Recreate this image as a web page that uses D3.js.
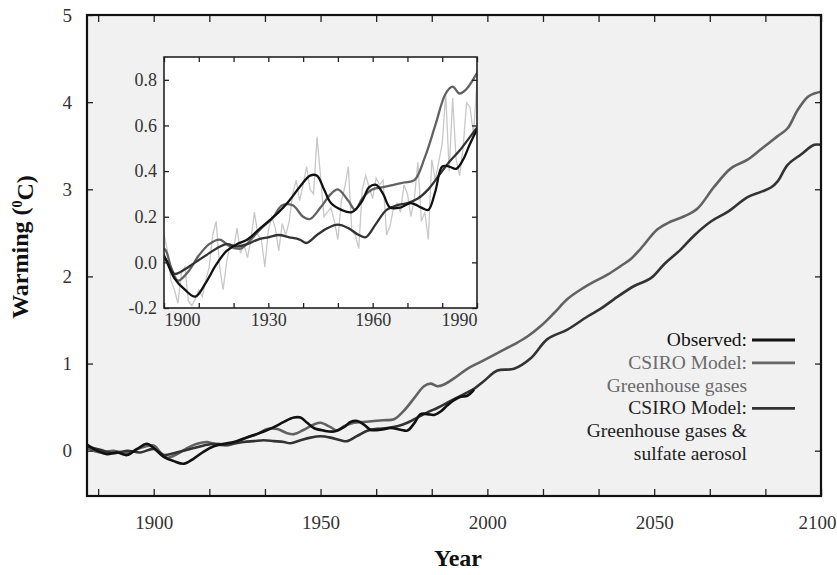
<!DOCTYPE html>
<html>
<head>
<meta charset="utf-8">
<script src="https://cdn.jsdelivr.net/npm/d3@7/dist/d3.min.js"></script>
<style>
  html, body { margin: 0; padding: 0; background: #ffffff; }
  svg { display: block; }
</style>
</head>
<body>
<svg id="chart" width="837" height="575"></svg>
<script>
// ---- Data -------------------------------------------------------------
// Observed global warming, smoothed (°C)
const obsYears = [1880,1883,1886,1889,1892,1895,1898,1900,1903,1906,1909,1912,1915,1918,1921,1924,1927,1930,1933,1936,1939,1942,1944,1946,1948,1951,1954,1957,1959,1961,1963,1965,1968,1971,1974,1976,1978,1980,1982,1984,1986,1988,1990,1992,1994,1996];
const obsValues = [0.07,0.00,-0.04,-0.02,-0.05,0.02,0.08,0.03,-0.07,-0.12,-0.15,-0.09,-0.01,0.05,0.08,0.10,0.14,0.18,0.22,0.27,0.33,0.38,0.38,0.32,0.26,0.23,0.22,0.27,0.33,0.34,0.30,0.24,0.24,0.26,0.24,0.23,0.31,0.42,0.42,0.41,0.45,0.52,0.58,0.62,0.63,0.70];

// Observed annual values (inset only)
const annualYears = d3.range(1900, 1991);
const annualValues = [0.12,0.05,-0.08,-0.12,-0.18,-0.05,-0.02,-0.17,-0.19,-0.16,
  -0.12,-0.15,-0.08,-0.02,0.12,0.18,-0.02,-0.12,0.00,0.08,
  0.06,0.15,0.04,0.08,0.02,0.10,0.22,0.12,0.10,-0.02,
  0.14,0.20,0.15,0.05,0.17,0.12,0.18,0.30,0.36,0.27,
  0.34,0.42,0.32,0.30,0.55,0.38,0.20,0.22,0.24,0.18,
  0.10,0.27,0.33,0.42,0.14,0.12,0.06,0.32,0.38,0.33,
  0.28,0.37,0.34,0.36,0.12,0.16,0.24,0.26,0.22,0.34,
  0.30,0.20,0.28,0.44,0.18,0.22,0.10,0.45,0.36,0.44,
  0.52,0.74,0.40,0.72,0.45,0.38,0.50,0.70,0.68,0.56,0.80];

// CSIRO model: greenhouse gases only
const ghgYears = [1880,1884,1888,1892,1896,1900,1902,1904,1907,1910,1913,1916,1919,1922,1925,1928,1931,1934,1937,1940,1942,1945,1948,1950,1953,1955,1957,1960,1963,1966,1969,1972,1975,1978,1981,1983,1985,1987,1990,1994,1998,2003,2008,2012,2016,2020,2024,2028,2032,2036,2040,2043,2046,2051,2055,2059,2063,2068,2073,2078,2082,2087,2090,2093,2096,2098,2100];
const ghgValues = [0.03,-0.02,0.00,-0.03,0.03,0.06,-0.02,-0.08,-0.04,0.03,0.08,0.10,0.07,0.06,0.10,0.15,0.19,0.25,0.25,0.20,0.19,0.24,0.30,0.32,0.27,0.23,0.28,0.32,0.33,0.34,0.35,0.36,0.46,0.60,0.74,0.77,0.74,0.76,0.83,0.94,1.02,1.12,1.22,1.31,1.43,1.58,1.74,1.85,1.94,2.02,2.12,2.20,2.32,2.54,2.63,2.69,2.78,3.03,3.24,3.34,3.46,3.61,3.70,3.91,4.06,4.10,4.12];

// CSIRO model: greenhouse gases & sulfate aerosol
const aerYears = [1880,1884,1888,1892,1896,1900,1903,1906,1909,1912,1915,1918,1921,1924,1927,1930,1933,1936,1939,1941,1944,1947,1950,1953,1956,1958,1961,1964,1967,1970,1973,1976,1979,1982,1985,1988,1990,1993,1996,1999,2003,2008,2013,2018,2024,2030,2034,2038,2044,2049,2053,2058,2062,2067,2072,2078,2082,2085,2087,2090,2094,2098,2100];
const aerValues = [0.05,0.01,-0.03,0.00,-0.02,0.02,-0.05,-0.03,0.00,0.03,0.06,0.08,0.07,0.08,0.10,0.11,0.12,0.11,0.10,0.085,0.12,0.15,0.165,0.15,0.12,0.11,0.17,0.23,0.25,0.26,0.28,0.32,0.38,0.44,0.49,0.55,0.59,0.65,0.71,0.80,0.92,0.94,1.06,1.28,1.39,1.54,1.63,1.74,1.89,1.98,2.14,2.31,2.47,2.63,2.74,2.91,2.97,3.02,3.09,3.28,3.40,3.51,3.51];

// Axis ticks and labels
const mainYTicks = [0, 1, 2, 3, 4, 5];
const mainXLabels = [1900, 1950, 2000, 2050, 2100];
const insetXLabels = [1900, 1930, 1960, 1990];
const insetYTicks = [-0.2, 0, 0.2, 0.4, 0.6, 0.8];

const legendItems = [
  { lines: ["Observed:"], color: "#111111", textColor: "#111111" },
  { lines: ["CSIRO Model:", "Greenhouse gases"], color: "#666666", textColor: "#6a6a6a" },
  { lines: ["CSIRO Model:", "Greenhouse gases &", "sulfate aerosol"], color: "#333333", textColor: "#222222" }
];

const series = [
  { years: ghgYears, values: ghgValues, color: "#626262" },
  { years: aerYears, values: aerValues, color: "#333333" },
  { years: obsYears, values: obsValues, color: "#111111" }
];

// Pick the first installed serif face (regular weight), measured on a canvas.
function pickSerif() {
  const ctx = document.createElement("canvas").getContext("2d");
  const sample = "Greenhouse gases & 1900 Wg";
  const width = f => { ctx.font = "32px " + f; return ctx.measureText(sample).width; };
  const base = width("monospace");
  const names = ["Liberation Serif", "Times New Roman", "DejaVu Serif", "Noto Serif", "FreeSerif"];
  for (const n of names) {
    if (Math.abs(width(`'${n}', monospace`) - base) > 0.5) return `'${n}', serif`;
  }
  return "serif";
}
const SERIF = pickSerif();

// ---- Layout ------------------------------------------------------------
const svg = d3.select("#chart");
const M = { left: 87, right: 821, top: 15, bottom: 496 };

const x = d3.scaleLinear().domain([1880, 2100]).range([M.left, M.right]);
const y = d3.scaleLinear().domain([-0.52, 5]).range([M.bottom, M.top]);

svg.append("rect").attr("width", 837).attr("height", 575).attr("fill", "#ffffff");
svg.append("rect")
  .attr("x", M.left).attr("y", M.top)
  .attr("width", M.right - M.left).attr("height", M.bottom - M.top)
  .attr("fill", "#f1f1f1");

const line = (xs, ys) => d3.line()
  .x(d => xs(d[0])).y(d => ys(d[1]))
  .curve(d3.curveCatmullRom.alpha(0.5));

// main curves
const mainG = svg.append("g");
series.forEach(s => {
  const pts = s.years.map((yr, i) => [yr, s.values[i]]);
  mainG.append("path")
    .attr("d", line(x, y)(pts))
    .attr("fill", "none").attr("stroke", s.color)
    .attr("stroke-width", 2.6).attr("stroke-linejoin", "round");
});

// main axes: ticks point inward
const xTickVals = d3.range(-1, 13).map(k => 1900 + k * 50 / 3).filter(v => v >= 1880 && v <= 2100.01);
const fmtX = v => {
  const r = Math.round(v);
  return (Math.abs(v - r) < 0.01 && mainXLabels.includes(r)) ? String(r) : "";
};
const styleAxis = g => {
  g.attr("font-family", SERIF);
  g.select(".domain").remove();
  g.selectAll(".tick line").attr("stroke", "#222").attr("stroke-width", 1.3);
  g.selectAll("text").attr("fill", "#333").style("font-family", SERIF).style("font-size", "19px");
};

const xAxisG = svg.append("g").attr("transform", `translate(0,${M.bottom})`)
  .call(d3.axisBottom(x).tickValues(xTickVals).tickFormat(fmtX).tickSize(-7).tickPadding(20))
  .call(styleAxis);
// keep the last year label inside the page
xAxisG.selectAll(".tick text")
  .filter(d => Math.abs(d - 2100) < 0.01)
  .attr("text-anchor", "end").attr("x", 836 - M.right);

svg.append("g").attr("transform", `translate(0,${M.top})`)
  .call(d3.axisTop(x).tickValues(xTickVals).tickFormat("").tickSize(-7))
  .call(styleAxis);
svg.append("g").attr("transform", `translate(${M.left},0)`)
  .call(d3.axisLeft(y).tickValues(mainYTicks).tickFormat(d3.format("d")).tickSize(-6).tickPadding(15))
  .call(styleAxis);
svg.append("g").attr("transform", `translate(${M.right},0)`)
  .call(d3.axisRight(y).tickValues(mainYTicks).tickFormat("").tickSize(-6))
  .call(styleAxis);

svg.append("rect")
  .attr("x", M.left).attr("y", M.top)
  .attr("width", M.right - M.left).attr("height", M.bottom - M.top)
  .attr("fill", "none").attr("stroke", "#111").attr("stroke-width", 2.2);

// axis titles
svg.append("text")
  .attr("x", (M.left + M.right) / 2 + 4).attr("y", 566)
  .attr("text-anchor", "middle").style("font-family", SERIF)
  .style("font-size", "24px").style("font-weight", "bold").attr("fill", "#111")
  .text("Year");

const yTitle = svg.append("text")
  .attr("transform", "translate(28,247) rotate(-90)")
  .attr("text-anchor", "middle").style("font-family", SERIF)
  .style("font-size", "24px").style("font-weight", "bold").attr("fill", "#111");
yTitle.append("tspan").text("Warming (");
yTitle.append("tspan").text("0").attr("dy", "-0.45em").style("font-size", "14px");
yTitle.append("tspan").text("C)").attr("dy", "0.45em");

// ---- Legend -------------------------------------------------------------
const legend = svg.append("g");
let ly = 346;
const lineH = 22.8;
legendItems.forEach(item => {
  item.lines.forEach((t, j) => {
    legend.append("text")
      .attr("x", 747).attr("y", ly + j * lineH)
      .attr("text-anchor", "end").style("font-family", SERIF)
      .style("font-size", "19.5px").attr("fill", item.textColor)
      .text(t);
  });
  legend.append("line")
    .attr("x1", 752).attr("x2", 795)
    .attr("y1", ly - 6).attr("y2", ly - 6)
    .attr("stroke", item.color).attr("stroke-width", 2.8);
  ly += item.lines.length * lineH;
});

// ---- Inset ---------------------------------------------------------------
const I = { left: 164, right: 477, top: 57, bottom: 308 };
const xi = d3.scaleLinear().domain([1900, 1990]).range([I.left, I.right]);
const yi = d3.scaleLinear().domain([-0.2, 0.9]).range([I.bottom, I.top]);

svg.append("rect")
  .attr("x", I.left).attr("y", I.top)
  .attr("width", I.right - I.left).attr("height", I.bottom - I.top)
  .attr("fill", "#ffffff");

svg.append("clipPath").attr("id", "insetClip")
  .append("rect")
  .attr("x", I.left).attr("y", I.top)
  .attr("width", I.right - I.left).attr("height", I.bottom - I.top);

const insetG = svg.append("g").attr("clip-path", "url(#insetClip)");
insetG.append("path")
  .attr("d", d3.line().x(d => xi(d[0])).y(d => yi(d[1]))(annualYears.map((yr, i) => [yr, annualValues[i]])))
  .attr("fill", "none").attr("stroke", "#c8c8c8").attr("stroke-width", 1.3);

series.forEach(s => {
  const pts = s.years.map((yr, i) => [yr, s.values[i]]).filter(p => p[0] >= 1895 && p[0] <= 1995);
  insetG.append("path")
    .attr("d", line(xi, yi)(pts))
    .attr("fill", "none").attr("stroke", s.color)
    .attr("stroke-width", 2.3).attr("stroke-linejoin", "round");
});

const insetXTicks = d3.range(1900, 1991, 10);
const ixAxis = svg.append("g").attr("transform", `translate(0,${I.bottom})`)
  .call(d3.axisBottom(xi).tickValues(insetXTicks)
    .tickFormat(v => insetXLabels.includes(v) ? String(v) : "")
    .tickSize(-5).tickPadding(5))
  .call(styleAxis);
ixAxis.selectAll("text").style("font-size", "18px")
  .attr("text-anchor", d => d === 1900 ? "start" : (d === 1990 ? "end" : "middle"));

svg.append("g").attr("transform", `translate(0,${I.top})`)
  .call(d3.axisTop(xi).tickValues(insetXTicks).tickFormat("").tickSize(-5))
  .call(styleAxis);

const fmtI = v => (v < 0 ? "-" : "") + d3.format(".1f")(Math.abs(v));
svg.append("g").attr("transform", `translate(${I.left},0)`)
  .call(d3.axisLeft(yi).tickValues(insetYTicks).tickFormat(fmtI).tickSize(-5).tickPadding(7))
  .call(styleAxis)
  .selectAll("text").style("font-size", "18px");
svg.append("g").attr("transform", `translate(${I.right},0)`)
  .call(d3.axisRight(yi).tickValues(insetYTicks).tickFormat("").tickSize(-5))
  .call(styleAxis);

svg.append("rect")
  .attr("x", I.left).attr("y", I.top)
  .attr("width", I.right - I.left).attr("height", I.bottom - I.top)
  .attr("fill", "none").attr("stroke", "#222").attr("stroke-width", 1.6);
</script>
</body>
</html>
